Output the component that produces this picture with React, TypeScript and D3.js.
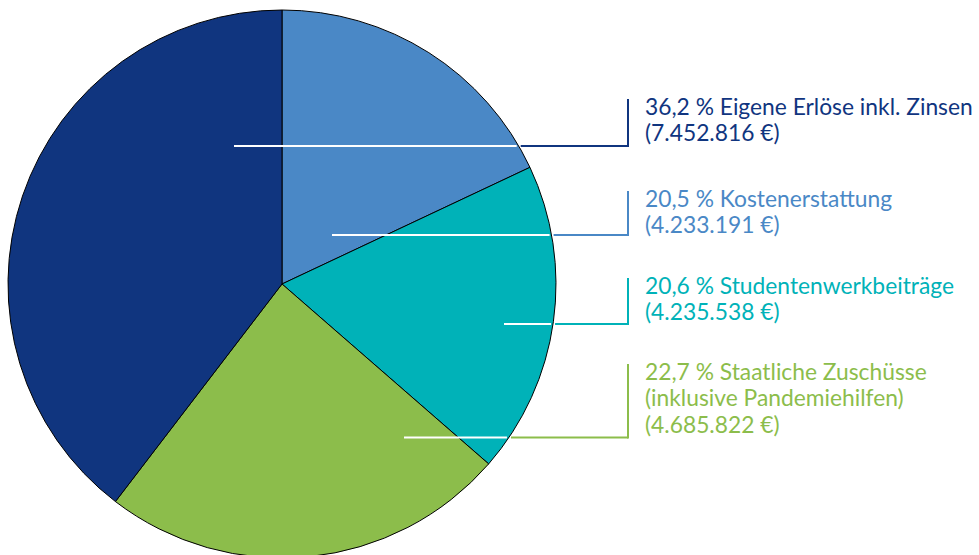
import React from "react";
import * as d3 from "d3";

// Slice shares as drawn in the picture (clockwise from 12 o'clock)
const categories = ["Kostenerstattung", "Studentenwerkbeiträge", "Staatliche Zuschüsse", "Eigene Erlöse inkl. Zinsen"];
const drawnShares = [18.0, 18.4, 24.0, 39.6];
const colors = ["#4a88c6", "#00b2b8", "#8cbd4b", "#10357f"];

// Label texts
const labelLines = [
  ["20,5 % Kostenerstattung", "(4.233.191 €)"],
  ["20,6 % Studentenwerkbeiträge", "(4.235.538 €)"],
  ["22,7 % Staatliche Zuschüsse", "(inklusive Pandemiehilfen)", "(4.685.822 €)"],
  ["36,2 % Eigene Erlöse inkl. Zinsen", "(7.452.816 €)"],
];

// Layout (positions only)
const W = 979, H = 555;
const cx = 282, cy = 284, R = 274;
const bracketX = 628;
const textX = 645;
const lineH = 26.5;
const leaders = [
  { y: 235, x0: 332, top: 191 },
  { y: 324, x0: 504, top: 278 },
  { y: 437.5, x0: 404, top: 364 },
  { y: 146, x0: 234, top: 99 },
];

export default function App() {
  const pie = d3.pie<number>().sort(null).value((d) => d)(drawnShares);
  const arc = d3.arc<d3.PieArcDatum<number>>().innerRadius(0).outerRadius(R);
  const font = "Lato, 'Open Sans', sans-serif";
  return (
    <svg width={W} height={H} style={{ position: "absolute", left: 0, top: 0, background: "#fff" }}>
      <g transform={`translate(${cx},${cy})`}>
        {pie.map((p, i) => (
          <path key={categories[i]} d={arc(p) || ""} fill={colors[i]} stroke="#000" strokeWidth={1} />
        ))}
      </g>
      {leaders.map((l, i) => {
        const edgeX = cx + Math.sqrt(R * R - (l.y - cy) * (l.y - cy));
        return (
          <g key={"l" + i}>
            <line x1={edgeX + 2} x2={bracketX} y1={l.y} y2={l.y} stroke={colors[i]} strokeWidth={2} />
            <line x1={bracketX} x2={bracketX} y1={l.top} y2={l.y + 1} stroke={colors[i]} strokeWidth={2} />
            <line x1={l.x0} x2={edgeX - 2} y1={l.y} y2={l.y} stroke="#fff" strokeWidth={2} />
          </g>
        );
      })}
      {labelLines.map((lines, i) => (
        <text key={"t" + i} fill={colors[i]} fontFamily={font} fontSize={22.8}>
          {lines.map((s, j) => (
            <tspan key={j} x={textX} y={leaders[i].top + 15.5 + j * lineH}>{s}</tspan>
          ))}
        </text>
      ))}
    </svg>
  );
}
